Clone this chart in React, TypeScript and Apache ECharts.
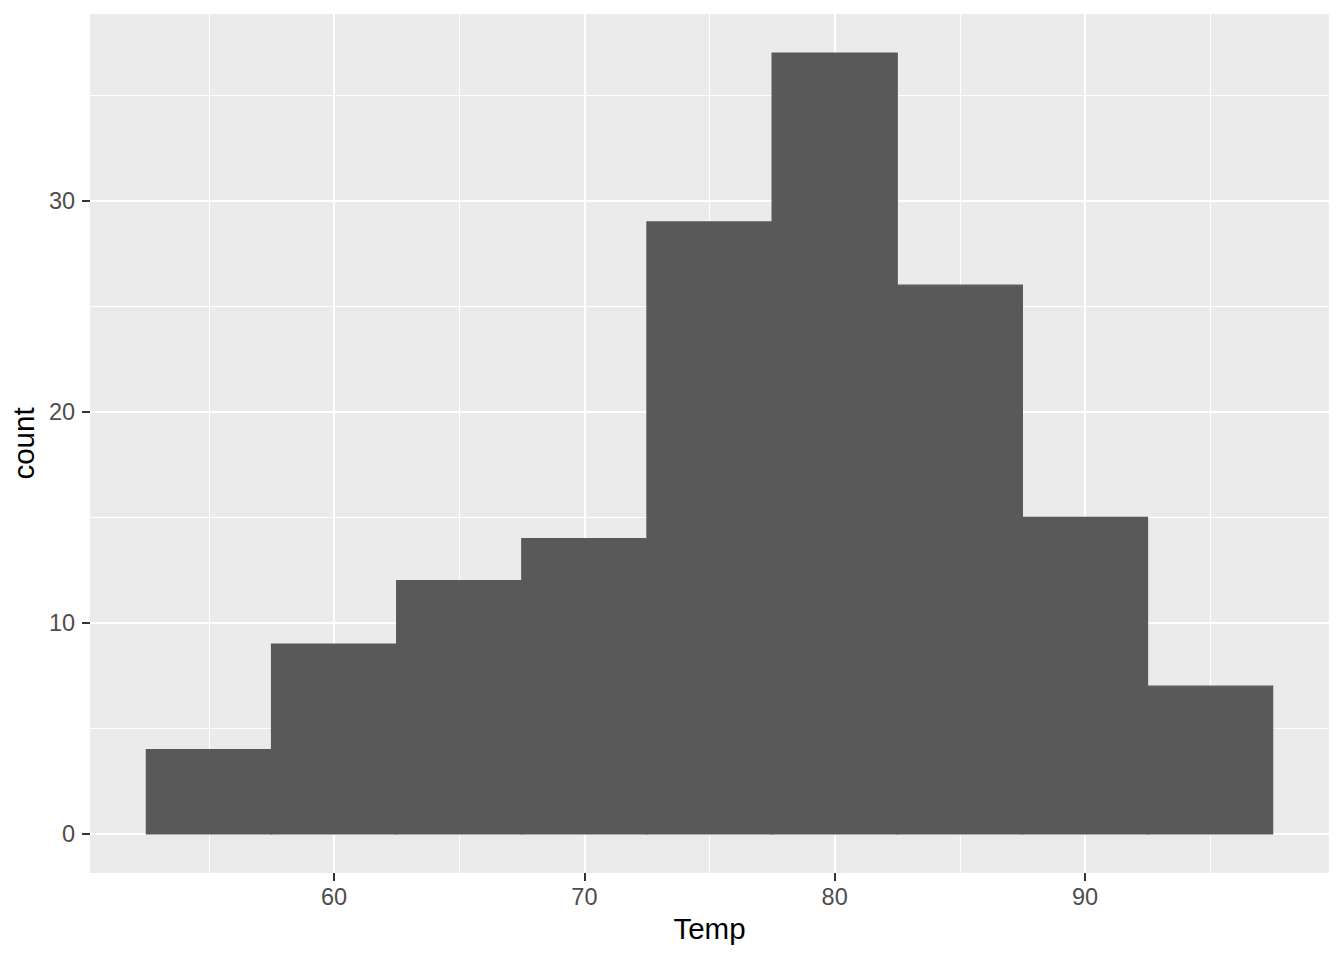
import React, { useEffect, useRef } from "react";
import * as echarts from "echarts";

const binStarts = [52.5, 57.5, 62.5, 67.5, 72.5, 77.5, 82.5, 87.5, 92.5];
const binEnds = [57.5, 62.5, 67.5, 72.5, 77.5, 82.5, 87.5, 92.5, 97.5];
const counts = [4, 9, 12, 14, 29, 37, 26, 15, 7];

const xTicks = [60, 70, 80, 90];
const xMinorGrid = [55, 65, 75, 85, 95];
const yTicks = [0, 10, 20, 30];
const yMinorGrid = [5, 15, 25, 35];

const xLimits = [50.25, 99.75];
const yLimits = [-1.85, 38.85];

const FONT = "'Liberation Sans', Arial, sans-serif";

export default function App() {
  const ref = useRef<HTMLDivElement>(null);
  useEffect(() => {
    if (!ref.current) return;
    const chart = echarts.init(ref.current, null, { renderer: "svg" });
    const histData = binStarts.map((s, i) => [s, binEnds[i], counts[i]]);
    const gridLines: any[] = [];
    xMinorGrid.forEach((v) => gridLines.push({ xAxis: v, lineStyle: { width: 1.1 } }));
    yMinorGrid.forEach((v) => gridLines.push({ yAxis: v, lineStyle: { width: 1.1 } }));
    xTicks.forEach((v) => gridLines.push({ xAxis: v, lineStyle: { width: 2.1 } }));
    yTicks.forEach((v) => gridLines.push({ yAxis: v, lineStyle: { width: 2.1 } }));

    chart.setOption({
      animation: false,
      backgroundColor: "#FFFFFF",
      grid: {
        left: 89,
        right: 15,
        top: 14,
        bottom: 87,
        show: true,
        backgroundColor: "#EBEBEB",
        borderWidth: 0,
      },
      xAxis: {
        type: "value",
        min: xLimits[0],
        max: xLimits[1],
        name: "Temp",
        nameLocation: "middle",
        nameGap: 40,
        nameTextStyle: { fontFamily: FONT, fontSize: 29.5, color: "#000000" },
        axisLine: { show: false, onZero: false },
        axisTick: {
          show: true,
          customValues: xTicks,
          length: 8,
          lineStyle: { color: "#333333", width: 2 },
        },
        axisLabel: {
          customValues: xTicks,
          margin: 12,
          fontFamily: FONT,
          fontSize: 23.5,
          color: "#4D4D4D",
        },
        splitLine: { show: false },
      },
      yAxis: {
        type: "value",
        min: yLimits[0],
        max: yLimits[1],
        name: "count",
        nameLocation: "middle",
        nameGap: 47,
        nameRotate: 90,
        nameTextStyle: { fontFamily: FONT, fontSize: 29.5, color: "#000000" },
        axisLine: { show: false, onZero: false },
        axisTick: {
          show: true,
          customValues: yTicks,
          length: 8,
          lineStyle: { color: "#333333", width: 2 },
        },
        axisLabel: {
          customValues: yTicks,
          margin: 15,
          fontFamily: FONT,
          fontSize: 23.5,
          color: "#4D4D4D",
        },
        splitLine: { show: false },
      },
      series: [
        {
          type: "line",
          data: [],
          silent: true,
          markLine: {
            z: 1,
            silent: true,
            symbol: ["none", "none"],
            label: { show: false },
            lineStyle: { color: "#FFFFFF", type: "solid" },
            emphasis: { disabled: true },
            data: gridLines,
          },
        },
        {
          type: "custom",
          z: 2,
          silent: true,
          data: histData,
          encode: { x: [0, 1], y: 2 },
          renderItem: (params: any, api: any) => {
            const x0 = api.value(0);
            const x1 = api.value(1);
            const y = api.value(2);
            const p0 = api.coord([x0, y]);
            const p1 = api.coord([x1, 0]);
            return {
              type: "rect",
              shape: { x: p0[0], y: p0[1], width: p1[0] - p0[0], height: p1[1] - p0[1] },
              style: { fill: "#595959", stroke: "#595959", lineWidth: 1.2 },
            };
          },
        },
      ],
    });
    return () => chart.dispose();
  }, []);
  return (
    <div
      ref={ref}
      style={{ position: "absolute", left: 0, top: 0, width: 1344, height: 960 }}
    />
  );
}
